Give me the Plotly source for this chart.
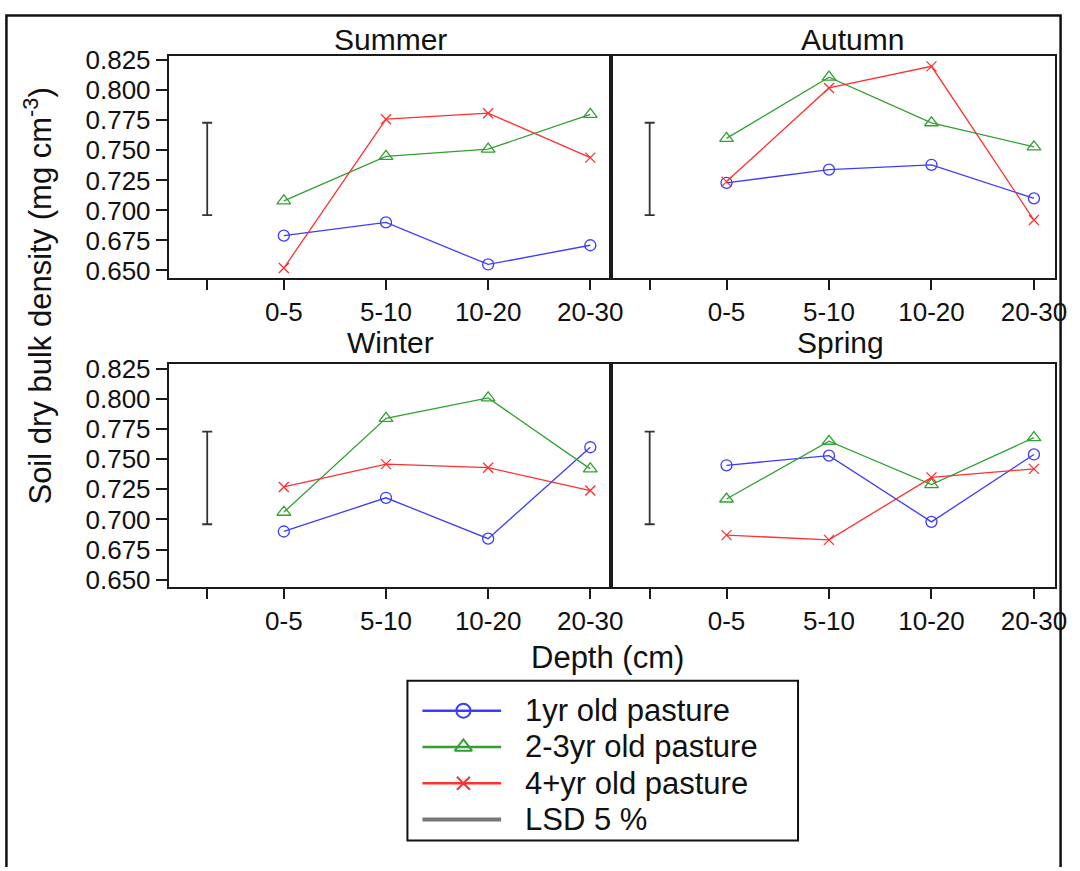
import plotly.graph_objects as go

# ---------------- data ----------------
depths = ["0-5", "5-10", "10-20", "20-30"]
seasons = ["Summer", "Autumn", "Winter", "Spring"]
series_names = ["1yr old pasture", "2-3yr old pasture", "4+yr old pasture"]

summer_1yr = [0.679, 0.690, 0.655, 0.671]
summer_23yr = [0.708, 0.745, 0.751, 0.780]
summer_4yr = [0.652, 0.776, 0.781, 0.744]

autumn_1yr = [0.723, 0.734, 0.738, 0.710]
autumn_23yr = [0.760, 0.811, 0.773, 0.753]
autumn_4yr = [0.724, 0.802, 0.820, 0.692]

winter_1yr = [0.690, 0.718, 0.684, 0.760]
winter_23yr = [0.706, 0.784, 0.801, 0.742]
winter_4yr = [0.727, 0.746, 0.743, 0.724]

spring_1yr = [0.745, 0.753, 0.698, 0.754]
spring_23yr = [0.717, 0.765, 0.729, 0.768]
spring_4yr = [0.687, 0.683, 0.735, 0.742]

lsd_low = 0.696
lsd_high = 0.773

y_ticks = [0.650, 0.675, 0.700, 0.725, 0.750, 0.775, 0.800, 0.825]

# ---------------- styling ----------------
W, H = 1080, 871
FONT = "Liberation Sans, Arial, sans-serif"
colors = ["#3c3cff", "#32a032", "#ff3030"]
symbols = ["circle-open", "triangle-up-open", "x-thin-open"]
msizes = [11, 12, 10]
frame_col = "#1a1a1a"

def px_x(p):
    return p / W

def px_y(p):
    return 1 - p / H

panel_data = {
    "Summer": [summer_1yr, summer_23yr, summer_4yr],
    "Autumn": [autumn_1yr, autumn_23yr, autumn_4yr],
    "Winter": [winter_1yr, winter_23yr, winter_4yr],
    "Spring": [spring_1yr, spring_23yr, spring_4yr],
}

x_pos = list(range(1, len(depths) + 1))
lsd_x = 0.25

fig = go.Figure()

axis_ids = {"Summer": ("x", "y"), "Autumn": ("x2", "y2"),
            "Winter": ("x3", "y3"), "Spring": ("x4", "y4")}

for season in seasons:
    xa, ya = axis_ids[season]
    for i, vals in enumerate(panel_data[season]):
        fig.add_trace(go.Scatter(
            x=x_pos, y=vals, mode="lines+markers", xaxis=xa, yaxis=ya,
            line=dict(color=colors[i], width=1.3),
            marker=dict(symbol=symbols[i], size=msizes[i], color=colors[i],
                        line=dict(color=colors[i], width=1.3)),
            showlegend=False, name=series_names[i]))
    # LSD bar
    mid = (lsd_low + lsd_high) / 2
    fig.add_trace(go.Scatter(
        x=[lsd_x], y=[mid], mode="markers", xaxis=xa, yaxis=ya,
        marker=dict(size=1, opacity=0),
        error_y=dict(type="data", array=[lsd_high - mid], symmetric=True,
                     color="#333333", thickness=1.8, width=5),
        showlegend=False, hoverinfo="skip"))

# ---------------- custom legend samples (on a hidden axis) ----------------
leg_rows = list(range(4))
for i in range(3):
    fig.add_trace(go.Scatter(
        x=[0, 1], y=[leg_rows[i]] * 2, mode="lines", xaxis="x5", yaxis="y5",
        line=dict(color=colors[i], width=2.5), showlegend=False, hoverinfo="skip"))
    fig.add_trace(go.Scatter(
        x=[0.52], y=[leg_rows[i]], mode="markers", xaxis="x5", yaxis="y5",
        marker=dict(symbol=symbols[i], size=msizes[i] + 3, color=colors[i],
                    line=dict(color=colors[i], width=2)),
        showlegend=False, hoverinfo="skip"))
fig.add_trace(go.Scatter(
    x=[0, 1], y=[leg_rows[3]] * 2, mode="lines", xaxis="x5", yaxis="y5",
    line=dict(color="#777777", width=4), showlegend=False, hoverinfo="skip"))

# ---------------- axes ----------------
x_left = [px_x(170.7), px_x(618)]
x_right = [px_x(618), px_x(1066.7)]
y_top = [px_y(273.3), px_y(46.5)]
y_bot = [px_y(589), px_y(361.7)]
x_range = [-0.126, 4.204]
y_range = [0.644, 0.829]

def xaxis_cfg(domain, anchor):
    return dict(domain=domain, anchor=anchor, range=x_range,
                tickmode="array", tickvals=x_pos, ticktext=depths,
                ticks="outside", ticklen=10, tickwidth=2, tickcolor=frame_col,
                minor=dict(tickmode="array", tickvals=[lsd_x], ticks="outside",
                           ticklen=10, tickwidth=2, tickcolor=frame_col,
                           showgrid=False),
                showline=True, linecolor=frame_col, linewidth=2, mirror=True,
                showgrid=False, zeroline=False,
                tickfont=dict(family=FONT, size=26, color="#111111"))

def yaxis_cfg(domain, anchor, labels):
    d = dict(domain=domain, anchor=anchor, range=y_range,
             showline=True, linecolor=frame_col, linewidth=2, mirror=True,
             showgrid=False, zeroline=False)
    if labels:
        d.update(tickmode="array", tickvals=y_ticks,
                 ticktext=["%.3f" % v for v in y_ticks],
                 ticks="outside", ticklen=11, tickwidth=2, tickcolor=frame_col,
                 tickfont=dict(family=FONT, size=26, color="#111111"))
    else:
        d.update(showticklabels=False, ticks="")
    return d

fig.update_layout(
    width=W, height=H,
    margin=dict(l=0, r=0, t=0, b=0),
    paper_bgcolor="white", plot_bgcolor="white",
    showlegend=False,
    xaxis=xaxis_cfg(x_left, "y"),
    yaxis=yaxis_cfg(y_top, "x", True),
    xaxis2=xaxis_cfg(x_right, "y2"),
    yaxis2=yaxis_cfg(y_top, "x2", False),
    xaxis3=xaxis_cfg(x_left, "y3"),
    yaxis3=yaxis_cfg(y_bot, "x3", True),
    xaxis4=xaxis_cfg(x_right, "y4"),
    yaxis4=yaxis_cfg(y_bot, "x4", False),
    xaxis5=dict(domain=[px_x(427), px_x(507)], anchor="y5", range=[0, 1],
                visible=False, fixedrange=True),
    yaxis5=dict(domain=[px_y(845), px_y(697)], anchor="x5", range=[3.5, -0.5],
                visible=False, fixedrange=True),
)

TXT = 31
annotations = []
title_pos = {"Summer": (395, 30), "Autumn": (862, 30),
             "Winter": (395, 340), "Spring": (850, 340)}
for s in seasons:
    xp, yp = title_pos[s]
    annotations.append(dict(text=s, x=px_x(xp), y=px_y(yp), xref="paper", yref="paper",
                            xanchor="center", yanchor="middle", showarrow=False,
                            font=dict(family=FONT, size=30, color="#111111")))
annotations.append(dict(text="Soil dry bulk density (mg cm<sup>-3</sup>)",
                        x=px_x(38), y=px_y(292), xref="paper", yref="paper",
                        xanchor="center", yanchor="middle", textangle=-90,
                        showarrow=False, font=dict(family=FONT, size=TXT, color="#111111")))
annotations.append(dict(text="Depth (cm)", x=px_x(614), y=px_y(661),
                        xref="paper", yref="paper", xanchor="center", yanchor="middle",
                        showarrow=False, font=dict(family=FONT, size=TXT, color="#111111")))
legend_labels = series_names + ["LSD 5 %"]
for i, lab in enumerate(legend_labels):
    annotations.append(dict(text=lab, x=0, y=leg_rows[i], xref="x5", yref="y5",
                            xshift=528 - 427, xanchor="left", yanchor="middle",
                            showarrow=False,
                            font=dict(family=FONT, size=TXT, color="#111111")))
fig.update_layout(annotations=annotations)

shapes = [
    # legend box
    dict(type="rect", xref="paper", yref="paper",
         x0=px_x(412), x1=px_x(807), y0=px_y(848), y1=px_y(685),
         line=dict(color="#111111", width=2), fillcolor="rgba(0,0,0,0)"),
    # outer border (open at the bottom)
    dict(type="path", xref="paper", yref="paper",
         path="M %f,%f L %f,%f L %f,%f L %f,%f" % (
             px_x(6.5), px_y(875), px_x(6.5), px_y(5.5),
             px_x(1072.5), px_y(5.5), px_x(1072.5), px_y(875)),
         line=dict(color="#111111", width=2.5)),
]
fig.update_layout(shapes=shapes)

fig.write_html("out.html")
